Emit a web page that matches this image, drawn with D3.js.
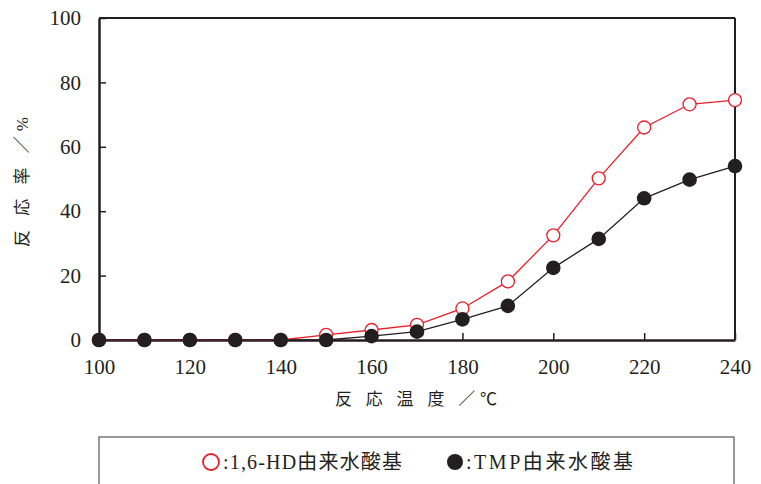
<!DOCTYPE html>
<html>
<head>
<meta charset="utf-8">
<script src="https://cdn.jsdelivr.net/npm/d3@7/dist/d3.min.js"></script>
<style>
  html, body { margin: 0; padding: 0; background: #fff; }
  svg { display: block; }
  text { fill: #231f20; }
</style>
</head>
<body>
<svg id="chart" width="761" height="484"></svg>
<script>
// Reaction temperature (°C)
const temperatures = [100, 110, 120, 130, 140, 150, 160, 170, 180, 190, 200, 210, 220, 230, 240];
// Conversion (%) of hydroxyl groups from 1,6-HD
const hdValues = [0, 0, 0, 0, 0, 1.6, 3.1, 4.7, 9.8, 18.2, 32.5, 50.2, 66.0, 73.2, 74.5];
// Conversion (%) of hydroxyl groups from TMP
const tmpValues = [0, 0, 0, 0, 0, 0, 1.2, 2.6, 6.4, 10.6, 22.4, 31.4, 44.0, 49.8, 54.0];
const xTicks = [100, 120, 140, 160, 180, 200, 220, 240];
const yTicks = [0, 20, 40, 60, 80, 100];
const seriesNames = ["1,6-HD由来水酸基", "TMP由来水酸基"];
const xTitle = "反 応 温 度 ／℃";
const yTitle = "反 応 率 ／%";

const svg = d3.select("#chart");
const plotLeft = 99, plotRight = 735, plotTop = 18, plotBottom = 340;
const x = d3.scaleLinear().domain([100, 240]).range([plotLeft, plotRight]);
const y = d3.scaleLinear().domain([0, 100]).range([plotBottom, plotTop]);

const serif = "'Liberation Serif', 'Noto Sans CJK JP', serif";
const ink = "#231f20";
const red = "#e8202a";

// Frame: top and right edges
svg.append("line").attr("x1", plotLeft).attr("x2", plotRight).attr("y1", plotTop).attr("y2", plotTop)
  .attr("stroke", ink).attr("stroke-width", 2);
svg.append("line").attr("x1", plotRight).attr("x2", plotRight).attr("y1", plotTop).attr("y2", plotBottom)
  .attr("stroke", ink).attr("stroke-width", 2);

// Axes with inward ticks
const xAxis = svg.append("g").attr("transform", `translate(0,${plotBottom})`)
  .call(d3.axisBottom(x).tickValues(xTicks).tickSizeInner(-7).tickSizeOuter(0).tickPadding(16).tickFormat(d3.format("d")));
const yAxis = svg.append("g").attr("transform", `translate(${plotLeft},0)`)
  .call(d3.axisLeft(y).tickValues(yTicks).tickSizeInner(-7).tickSizeOuter(0).tickPadding(16).tickFormat(d3.format("d")));
[xAxis, yAxis].forEach(g => {
  g.select(".domain").attr("stroke", ink).attr("stroke-width", 2.5);
  g.selectAll(".tick line").attr("stroke", ink).attr("stroke-width", 1.5);
  g.selectAll(".tick text").attr("font-family", serif).attr("font-size", 21).attr("fill", ink);
});
xAxis.selectAll(".tick text").attr("dy", "0.85em");
yAxis.selectAll(".tick text").attr("dx", "-0.1em");

// Axis titles
svg.append("text").attr("x", 416).attr("y", 405).attr("text-anchor", "middle")
  .attr("font-family", serif).attr("font-size", 17)
  .attr("textLength", 162).attr("lengthAdjust", "spacing").text(xTitle);
svg.append("text").attr("transform", "translate(28,182) rotate(-90)").attr("text-anchor", "middle")
  .attr("font-family", serif).attr("font-size", 17)
  .attr("textLength", 130).attr("lengthAdjust", "spacing").text(yTitle);

// Series: 1,6-HD (open red) underneath, TMP (filled black) on top
const line = d3.line().x((d, i) => x(temperatures[i])).y(d => y(d));
svg.append("path").datum(hdValues).attr("d", line).attr("fill", "none")
  .attr("stroke", red).attr("stroke-width", 1.3);
svg.append("g").selectAll("circle").data(hdValues).join("circle")
  .attr("cx", (d, i) => x(temperatures[i])).attr("cy", d => y(d)).attr("r", 6.5)
  .attr("fill", "#fff").attr("stroke", red).attr("stroke-width", 1.3);
svg.append("path").datum(tmpValues).attr("d", line).attr("fill", "none")
  .attr("stroke", ink).attr("stroke-width", 1.3);
svg.append("g").selectAll("circle").data(tmpValues).join("circle")
  .attr("cx", (d, i) => x(temperatures[i])).attr("cy", d => y(d)).attr("r", 7.3)
  .attr("fill", ink);

// Legend
svg.append("rect").attr("x", 99).attr("y", 437).attr("width", 635).attr("height", 60)
  .attr("fill", "none").attr("stroke", "#555").attr("stroke-width", 1.2);
svg.append("circle").attr("cx", 211).attr("cy", 462).attr("r", 8)
  .attr("fill", "#fff").attr("stroke", red).attr("stroke-width", 1.8);
svg.append("text").attr("x", 223).attr("y", 469).attr("font-family", serif).attr("font-size", 20)
  .attr("textLength", 179).attr("lengthAdjust", "spacing")
  .text(":" + seriesNames[0]);
svg.append("circle").attr("cx", 455).attr("cy", 462).attr("r", 8).attr("fill", ink);
svg.append("text").attr("x", 466).attr("y", 469).attr("font-family", serif).attr("font-size", 20)
  .attr("textLength", 167).attr("lengthAdjust", "spacing")
  .text(":" + seriesNames[1]);
</script>
</body>
</html>
